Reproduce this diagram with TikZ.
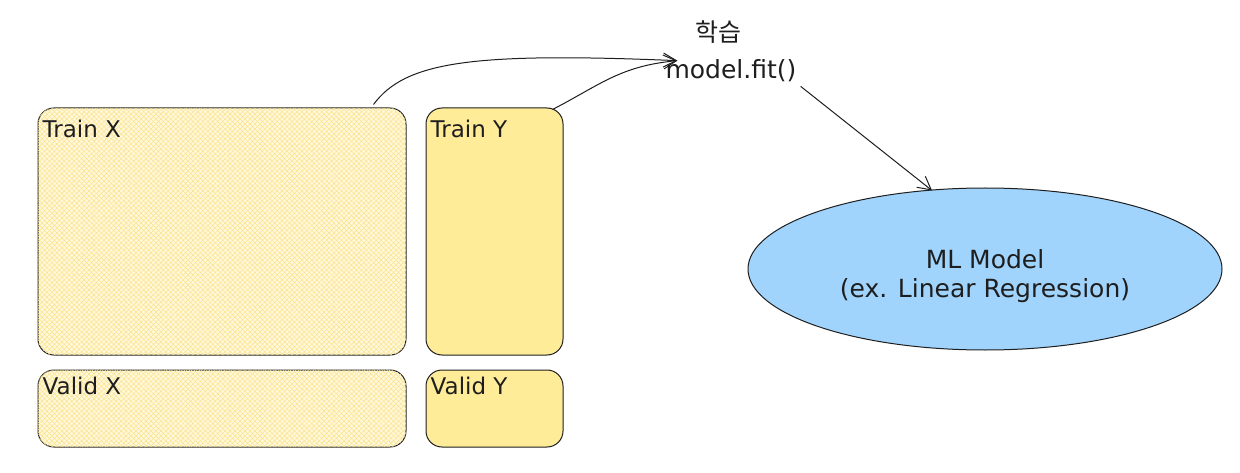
\documentclass[tikz,border=0pt]{standalone}
\usepackage{fontspec}
\setmainfont{DejaVu Sans}
\newfontfamily\krfont{Noto Sans CJK KR}
\usetikzlibrary{arrows.meta,shapes.geometric,patterns.meta,calc}
\definecolor{ink}{HTML}{1E1E1E}
\definecolor{yel}{HTML}{FFEC99}
\definecolor{yelhatch}{HTML}{FBE38A}
\definecolor{blu}{HTML}{A0D4FD}
\tikzset{
  databox/.style={draw=ink, line width=1pt, rounded corners=16pt, inner sep=0pt},
  hatchbox/.style={databox, fill=yel!35,
    postaction={pattern={Lines[angle=45,distance=3.5pt,line width=0.5pt]}, pattern color=yelhatch},
    postaction={pattern={Lines[angle=-45,distance=3.5pt,line width=0.5pt]}, pattern color=yelhatch}},
  solidbox/.style={databox, fill=yel},
  lbl/.style={anchor=north west, inner sep=0pt, font=\fontsize{23}{26}\selectfont, text=ink},
  txt/.style={inner sep=0pt, font=\fontsize{25}{29}\selectfont, text=ink, align=center},
  conn/.style={draw=ink, line width=1pt, -{Straight Barb[length=13pt,width=14pt]}},
}
\begin{document}
\begin{tikzpicture}[x=1pt,y=-1pt]
\useasboundingbox (0,0) rectangle (1240,473);
% boxes
\node[hatchbox, minimum width=368pt, minimum height=247pt] (tx) at (222,231.5) {};
\node[solidbox, minimum width=137pt, minimum height=247pt] (ty) at (494.5,231.5) {};
\node[hatchbox, minimum width=368pt, minimum height=77pt] (vx) at (222,408.5) {};
\node[solidbox, minimum width=137pt, minimum height=77pt] (vy) at (494.5,408.5) {};
% labels
\node[lbl] (txl) at ($(tx.north west)+(5,12)$) {Train X};
\node[lbl] (tyl) at ($(ty.north west)+(5,12)$) {Train Y};
\node[lbl] (vxl) at ($(vx.north west)+(5,7)$) {Valid X};
\node[lbl] (vyl) at ($(vy.north west)+(5,7)$) {Valid Y};
% fit text
\node[txt, font=\krfont\fontsize{25}{28}\selectfont] (hak) at (718,32) {학습};
\node[txt] (fit) at (731,71) {model.fit()};
% model ellipse
\node[ellipse, draw=ink, line width=1pt, fill=blu, minimum width=474pt, minimum height=162pt, inner sep=0pt] (ml) at (985,269) {};
\node[txt, font=\fontsize{25}{29}\selectfont] (mlt) at (985,276) {ML Model\\(ex. Linear Regression)};
% connectors
\coordinate (tip) at ($(fit.north west)+(12,1)$);
\draw[conn] ($(tx.north east)+(-33,-3)$) .. controls (405,62) and (470,52) .. (tip);
\draw[conn] ($(ty.north east)+(-11,2)$) .. controls (600,85) and (620,66) .. (tip);
\draw[conn] ($(fit.south east)+(4,4)$) -- ($(ml.north)+(-53,3)$);
\end{tikzpicture}
\end{document}
